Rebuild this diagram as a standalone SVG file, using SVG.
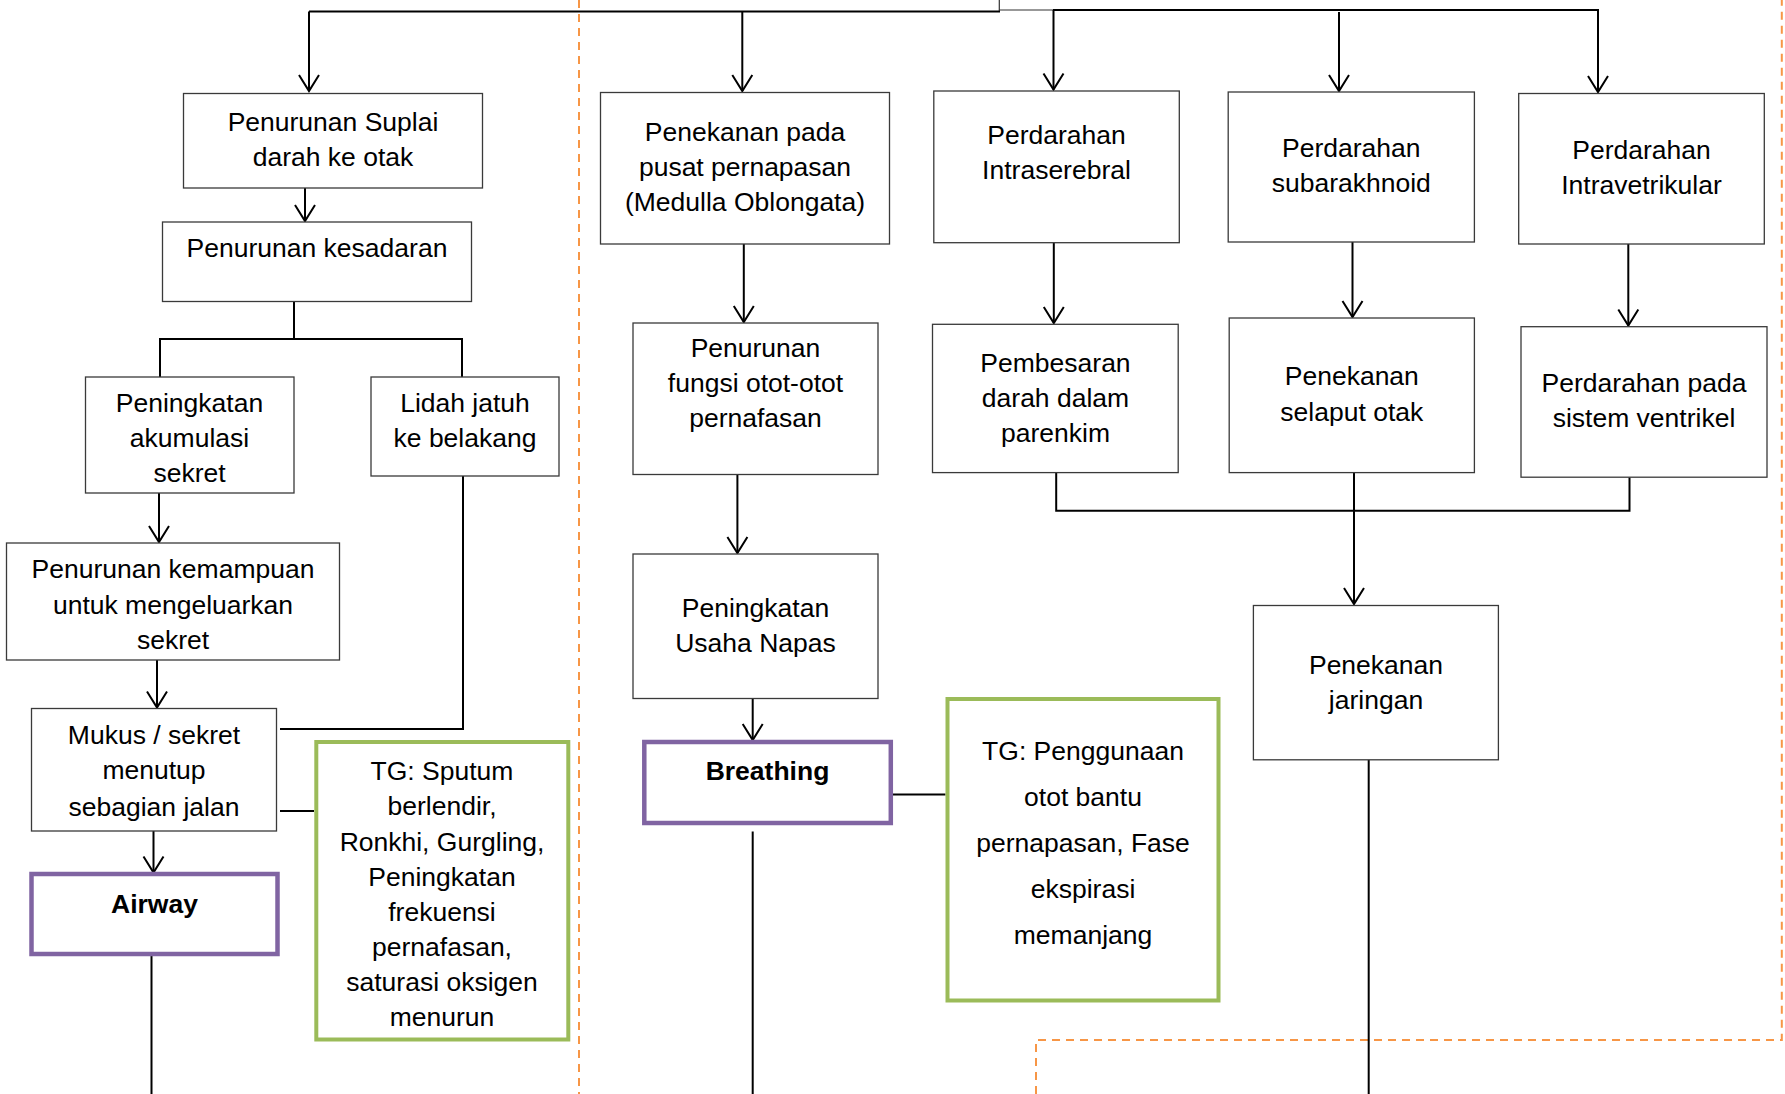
<svg xmlns="http://www.w3.org/2000/svg" width="1785" height="1094" viewBox="0 0 1785 1094">
<defs>
<style>
.box{fill:#fff;stroke:#3a3a3a;stroke-width:1.3}
.abc{fill:#fff;stroke:#8064A2;stroke-width:4.5}
.tg{fill:#fff;stroke:#9BBB59;stroke-width:4}
.c{fill:none;stroke:#000;stroke-width:2}
.thin{fill:none;stroke:#333;stroke-width:1.2}
.dash{fill:none;stroke:#F79646;stroke-width:2;stroke-dasharray:8 6}
text{font-family:"Liberation Sans",Arial,sans-serif;font-size:26.5px;fill:#000;text-anchor:middle}
.b{font-weight:bold}
</style>
<marker id="arr" markerUnits="userSpaceOnUse" markerWidth="20" markerHeight="24" viewBox="-18 -12 20 24" refX="0" refY="0" orient="auto" overflow="visible">
<path d="M-16,-10 L0,0 L-16,10" fill="none" stroke="#000" stroke-width="2"/>
</marker>
</defs>
<rect width="1785" height="1094" fill="#fff"/>

<g id="borders">
<path class="dash" d="M579,0 V1094"/>
<path class="dash" d="M1036,1094 V1040 H1781.8 V0"/>
</g>

<g id="connectors">
<path class="thin" d="M999.3,0 V11"/>
<path class="c" d="M309,11.5 H1000"/>
<path class="thin" d="M999,10 H1053"/>
<path class="c" d="M1053,10 H1599"/>
<path class="c" d="M309,11.5 V91" marker-end="url(#arr)"/>
<path class="c" d="M742.3,11.5 V91" marker-end="url(#arr)"/>
<path class="c" d="M1053.5,10 V89.5" marker-end="url(#arr)"/>
<path class="c" d="M1339,12 V91" marker-end="url(#arr)"/>
<path class="c" d="M1598,10 V92" marker-end="url(#arr)"/>
<path class="c" d="M305,188 V221" marker-end="url(#arr)"/>
<path class="c" d="M294,301.7 V339 M160,339 H462 M160,338 V377 M462,338 V377"/>
<path class="c" d="M159,493 V542" marker-end="url(#arr)"/>
<path class="c" d="M157,660 V707.5" marker-end="url(#arr)"/>
<path class="c" d="M153.5,831 V872.5" marker-end="url(#arr)"/>
<path class="c" d="M151.5,956 V1094"/>
<path class="c" d="M463,476 V729 H280"/>
<path class="c" d="M280,811 H314"/>
<path class="c" d="M743.8,244 V322" marker-end="url(#arr)"/>
<path class="c" d="M737.4,474.5 V553" marker-end="url(#arr)"/>
<path class="c" d="M752.7,698.5 V740" marker-end="url(#arr)"/>
<path class="c" d="M752.7,831.5 V1094"/>
<path class="c" d="M891,794.5 H945.5"/>
<path class="c" d="M1053.8,242.7 V323" marker-end="url(#arr)"/>
<path class="c" d="M1352.5,242 V317" marker-end="url(#arr)"/>
<path class="c" d="M1628.3,244 V325.5" marker-end="url(#arr)"/>
<path class="c" d="M1056.2,472.8 V510.7 H1630 M1629.5,477.3 V511.7"/>
<path class="c" d="M1354,472.8 V604" marker-end="url(#arr)"/>
<path class="c" d="M1368.7,759.8 V1094"/>
</g>

<g id="n-suplai">
<rect class="box" x="183.5" y="93.5" width="299" height="94.5"/>
<text x="333" y="130.7">Penurunan Suplai</text>
<text x="333" y="165.7">darah ke otak</text>
</g>
<g id="n-kesadaran">
<rect class="box" x="162.5" y="222" width="309" height="79.5"/>
<text x="317" y="256.7">Penurunan kesadaran</text>
</g>
<g id="n-akumulasi">
<rect class="box" x="85.5" y="377" width="208.5" height="116"/>
<text x="189.5" y="412">Peningkatan</text>
<text x="189.5" y="447">akumulasi</text>
<text x="189.5" y="482">sekret</text>
</g>
<g id="n-lidah">
<rect class="box" x="371" y="377" width="188" height="99"/>
<text x="465" y="412">Lidah jatuh</text>
<text x="465" y="447">ke belakang</text>
</g>
<g id="n-kemampuan">
<rect class="box" x="6.5" y="543" width="333" height="117"/>
<text x="173" y="578">Penurunan kemampuan</text>
<text x="173" y="613.5">untuk mengeluarkan</text>
<text x="173" y="648.5">sekret</text>
</g>
<g id="n-mukus">
<rect class="box" x="31.5" y="708.5" width="245" height="122.5"/>
<text x="154" y="743.5">Mukus / sekret</text>
<text x="154" y="779.3">menutup</text>
<text x="154" y="815.5">sebagian jalan</text>
</g>
<g id="n-airway">
<rect class="abc" x="31.5" y="874" width="246" height="80"/>
<text class="b" x="154.5" y="912.5">Airway</text>
</g>
<g id="n-tg1">
<rect class="tg" x="316.3" y="742" width="252" height="297.5"/>
<text x="442" y="779.5">TG: Sputum</text>
<text x="442" y="815">berlendir,</text>
<text x="442" y="850.5">Ronkhi, Gurgling,</text>
<text x="442" y="886">Peningkatan</text>
<text x="442" y="920.5">frekuensi</text>
<text x="442" y="956">pernafasan,</text>
<text x="442" y="991">saturasi oksigen</text>
<text x="442" y="1026">menurun</text>
</g>
<g id="n-medulla">
<rect class="box" x="600.5" y="92.5" width="289" height="151.5"/>
<text x="745" y="140.7">Penekanan pada</text>
<text x="745" y="175.7">pusat pernapasan</text>
<text x="745" y="210.7">(Medulla Oblongata)</text>
</g>
<g id="n-fungsi">
<rect class="box" x="633" y="323" width="245" height="151.5"/>
<text x="755.5" y="357">Penurunan</text>
<text x="755.5" y="392.2">fungsi otot-otot</text>
<text x="755.5" y="427.4">pernafasan</text>
</g>
<g id="n-usaha">
<rect class="box" x="633" y="554" width="245" height="144.5"/>
<text x="755.5" y="616.5">Peningkatan</text>
<text x="755.5" y="651.7">Usaha Napas</text>
</g>
<g id="n-breathing">
<rect class="abc" x="644.3" y="742" width="246.5" height="81"/>
<text class="b" x="767.5" y="780">Breathing</text>
</g>
<g id="n-tg2">
<rect class="tg" x="947.5" y="699" width="271" height="301.5"/>
<text x="1083" y="760">TG: Penggunaan</text>
<text x="1083" y="806">otot bantu</text>
<text x="1083" y="852">pernapasan, Fase</text>
<text x="1083" y="898">ekspirasi</text>
<text x="1083" y="944">memanjang</text>
</g>
<g id="n-intraserebral">
<rect class="box" x="933.8" y="91" width="245.5" height="151.7"/>
<text x="1056.5" y="144">Perdarahan</text>
<text x="1056.5" y="179">Intraserebral</text>
</g>
<g id="n-pembesaran">
<rect class="box" x="932.5" y="324.3" width="245.7" height="148.3"/>
<text x="1055.5" y="371.5">Pembesaran</text>
<text x="1055.5" y="406.7">darah dalam</text>
<text x="1055.5" y="442">parenkim</text>
</g>
<g id="n-subarakhnoid">
<rect class="box" x="1228.2" y="92" width="246.2" height="150"/>
<text x="1351.3" y="157.3">Perdarahan</text>
<text x="1351.3" y="192.3">subarakhnoid</text>
</g>
<g id="n-selaput">
<rect class="box" x="1229.2" y="318" width="245.2" height="154.6"/>
<text x="1351.8" y="385.3">Penekanan</text>
<text x="1351.8" y="420.5">selaput otak</text>
</g>
<g id="n-intraventrikular">
<rect class="box" x="1518.7" y="93.5" width="245.6" height="150.5"/>
<text x="1641.5" y="159">Perdarahan</text>
<text x="1641.5" y="194">Intravetrikular</text>
</g>
<g id="n-ventrikel">
<rect class="box" x="1521" y="326.7" width="246" height="150.5"/>
<text x="1644" y="392">Perdarahan pada</text>
<text x="1644" y="427">sistem ventrikel</text>
</g>
<g id="n-jaringan">
<rect class="box" x="1253.4" y="605.5" width="245" height="154.3"/>
<text x="1376" y="674">Penekanan</text>
<text x="1376" y="708.5">jaringan</text>
</g>
</svg>
